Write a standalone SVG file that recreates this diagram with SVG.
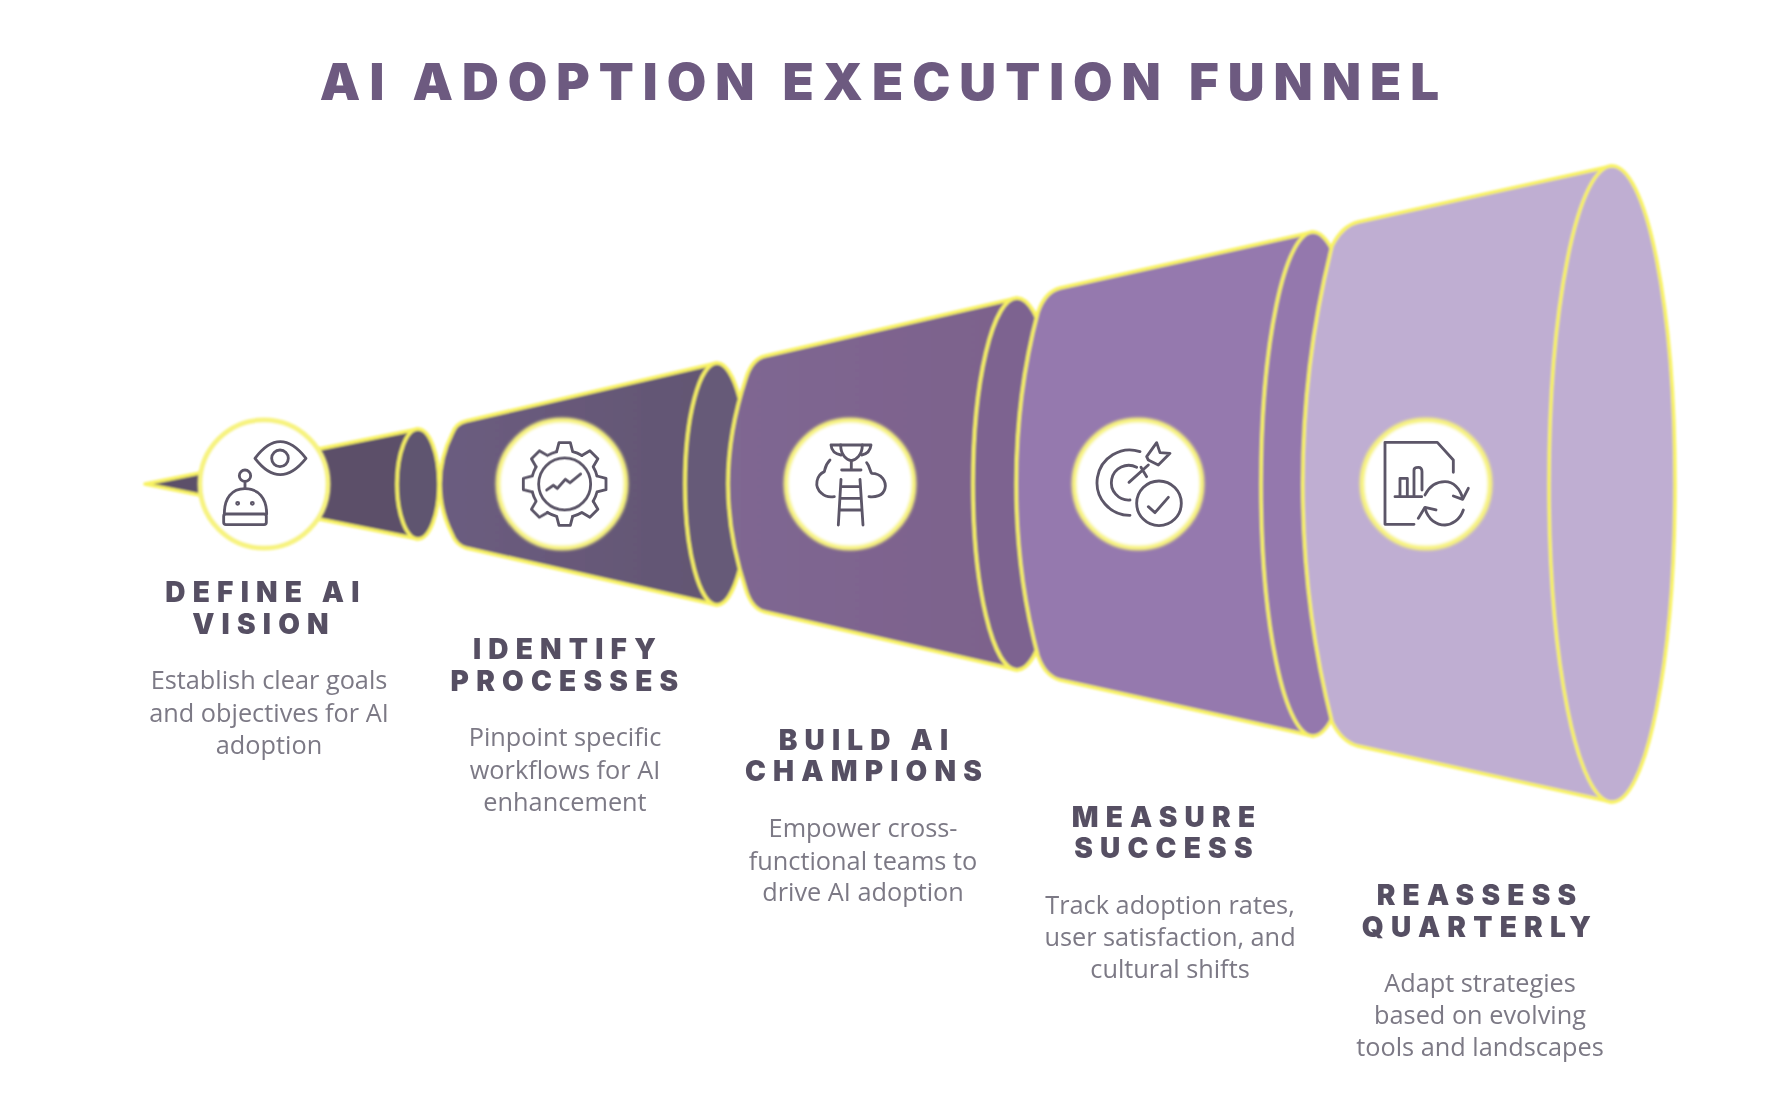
<svg xmlns="http://www.w3.org/2000/svg" width="1778" height="1096" viewBox="0 0 1778 1096">
<style>
.cone{stroke:#f8f262;stroke-width:3.5;stroke-linejoin:round}
.disc{fill:#fff;stroke:#f7f380;stroke-width:5}
.ic{fill:none;stroke:#5c5668;stroke-width:8.5;stroke-linecap:round;stroke-linejoin:round}
.hd{font-family:"Inter","Liberation Sans",sans-serif;font-weight:900;font-size:28px;letter-spacing:7.2px;fill:#565063;text-anchor:middle}
.bd{font-family:"Open Sans","Liberation Sans",sans-serif;font-weight:400;font-size:25.3px;fill:#7c7985;text-anchor:middle}
.tt{font-family:"Inter","Liberation Sans",sans-serif;font-weight:900;font-size:51px;letter-spacing:9px;fill:#6d5a80;text-anchor:middle}
</style>
<defs>
<filter id="soft" x="-5%" y="-5%" width="110%" height="110%"><feGaussianBlur stdDeviation="0.8"/></filter>
<filter id="softer" x="-10%" y="-10%" width="120%" height="120%"><feGaussianBlur stdDeviation="1.5"/></filter>
<filter id="tsoft" x="-5%" y="-20%" width="110%" height="140%"><feGaussianBlur stdDeviation="0.45"/></filter>
<linearGradient id="g2" x1="0" x2="1" y1="0" y2="0"><stop offset="0" stop-color="#6c5c80"/><stop offset="1" stop-color="#625672"/></linearGradient>
<linearGradient id="g3" x1="0" x2="1" y1="0" y2="0"><stop offset="0" stop-color="#7f6792"/><stop offset="1" stop-color="#7d628c"/></linearGradient>
<path id="gs" d="M-24,-97 L-17,-124 H17 L24,-97 A100,100 0 0 1 51.6,-85.6"/>
</defs>
<rect width="1778" height="1096" fill="#fff"/>

<g id="funnel" filter="url(#soft)">
<g id="cone-1">
<path class="cone" fill="#5b4f69" d="M145,484 L418,429 L418,539 Z"/>
<ellipse class="cone" fill="#5f5470" cx="418" cy="484" rx="21" ry="55"/>
</g>
<g id="cone-2">
<path class="cone" fill="url(#g2)" d="M717,363 L466,421 Q456,423 452,434 C436,465 436,503 452,534 Q456,545 466,548 L717,605 Z"/>
<ellipse class="cone" fill="#665a78" cx="717" cy="484" rx="32" ry="121"/>
</g>
<g id="cone-3">
<path class="cone" fill="url(#g3)" d="M1017,298 L765,356 Q752,359 746,378 C722,450 722,518 746,590 Q752,609 765,612 L1017,670 Z"/>
<ellipse class="cone" fill="#7d6490" cx="1017" cy="484" rx="44" ry="186"/>
</g>
<g id="cone-4">
<path class="cone" fill="#9579ae" d="M1313,232 L1060,288 Q1045,292 1038,312 C1009,420 1009,548 1038,656 Q1045,676 1060,680 L1313,736 Z"/>
<ellipse class="cone" fill="#9478ad" cx="1313" cy="484" rx="52" ry="252"/>
</g>
<g id="cone-5">
<path class="cone" fill="#bfaed2" d="M1612,166 L1358,222 Q1342,226 1332,246 C1293,400 1293,568 1332,722 Q1342,742 1358,746 L1612,802 Z"/>
<ellipse class="cone" fill="#bfaed2" cx="1612" cy="484" rx="63" ry="318"/>
</g>
</g>

<g id="step-1">
<circle class="disc" cx="264" cy="484" r="64" filter="url(#soft)"/>
<g class="ic" transform="translate(190,410) scale(.3333)" filter="url(#soft)">
<path d="M195,145 Q270,45 348,145 Q270,243 195,145 Z"/><circle cx="270" cy="145" r="25"/>
<circle cx="165" cy="197" r="17"/><path d="M165,214 V236"/>
<path d="M103,312 C103,265 125,236 165,236 C205,236 230,265 230,312"/>
<rect x="101" y="312" width="128" height="32" rx="7"/>
<circle cx="143" cy="280" r="3"/><circle cx="187" cy="280" r="3"/>
</g>
<text class="hd" x="266" y="602" filter="url(#tsoft)">DEFINE AI</text>
<text class="hd" x="264" y="634" filter="url(#tsoft)">VISION</text>
<text class="bd" x="269" y="689" filter="url(#tsoft)">Establish clear goals</text>
<text class="bd" x="269" y="722" filter="url(#tsoft)">and objectives for AI</text>
<text class="bd" x="269" y="754" filter="url(#tsoft)">adoption</text>
</g>

<g id="step-2">
<circle class="disc" cx="562" cy="484" r="64" filter="url(#softer)"/>
<g class="ic" transform="translate(490,410) scale(.3333)" filter="url(#soft)">
<g transform="translate(224,222)">
<use href="#gs"/><use href="#gs" transform="rotate(45)"/><use href="#gs" transform="rotate(90)"/><use href="#gs" transform="rotate(135)"/><use href="#gs" transform="rotate(180)"/><use href="#gs" transform="rotate(225)"/><use href="#gs" transform="rotate(270)"/><use href="#gs" transform="rotate(315)"/>
<circle r="78"/>
</g>
<path d="M170,240 L190,226 L202,235 L226,208 L240,218 L272,192"/>
</g>
<text class="hd" x="568" y="659" filter="url(#tsoft)">IDENTIFY</text>
<text class="hd" x="568" y="691" filter="url(#tsoft)">PROCESSES</text>
<text class="bd" x="565" y="746" filter="url(#tsoft)">Pinpoint specific</text>
<text class="bd" x="565" y="779" filter="url(#tsoft)">workflows for AI</text>
<text class="bd" x="565" y="811" filter="url(#tsoft)">enhancement</text>
</g>

<g id="step-3">
<circle class="disc" cx="850" cy="484" r="64" filter="url(#softer)"/>
<g class="ic" transform="translate(775,410) scale(.3333)" filter="url(#soft)">
<path d="M197,105 C197,135 215,150 229,152 C243,150 262,135 262,105 Z"/>
<path d="M197,105 H168 Q170,130 198,135 M262,105 H288 Q285,130 260,135"/>
<path d="M229,152 V180 M200,180 H258"/>
<path d="M165,150 C150,165 150,178 148,185 C125,195 115,230 140,250 C150,260 165,262 178,260"/>
<path d="M275,158 C285,170 285,185 290,190 C320,190 335,215 330,235 C325,258 300,262 282,260"/>
<path d="M198,208 L190,345 M255,208 L264,345 M197,230 H256 M195,265 H258 M193,300 H261"/>
</g>
<text class="hd" x="867" y="750" filter="url(#tsoft)">BUILD AI</text>
<text class="hd" x="867" y="781" filter="url(#tsoft)">CHAMPIONS</text>
<text class="bd" x="863" y="837" filter="url(#tsoft)">Empower cross-</text>
<text class="bd" x="863" y="870" filter="url(#tsoft)">functional teams to</text>
<text class="bd" x="863" y="901" filter="url(#tsoft)">drive AI adoption</text>
</g>

<g id="step-4">
<circle class="disc" cx="1138" cy="484" r="64" filter="url(#softer)"/>
<g class="ic" transform="translate(1065,410) scale(.3333)" filter="url(#soft)">
<path d="M225,125 A98,98 0 1 0 195,316"/>
<path d="M215,172 A52,52 0 1 0 195,270"/>
<path d="M192,217 L250,165 M228,172 L245,200"/>
<path d="M245,140 L275,98 L285,128 L315,130 L280,165 L250,150 Z"/>
<circle cx="282" cy="280" r="67"/>
<path d="M250,290 L270,308 L310,262"/>
</g>
<text class="hd" x="1167" y="827" filter="url(#tsoft)">MEASURE</text>
<text class="hd" x="1167" y="858" filter="url(#tsoft)">SUCCESS</text>
<text class="bd" x="1170" y="914" filter="url(#tsoft)">Track adoption rates,</text>
<text class="bd" x="1170" y="946" filter="url(#tsoft)">user satisfaction, and</text>
<text class="bd" x="1170" y="978" filter="url(#tsoft)">cultural shifts</text>
</g>

<g id="step-5">
<circle class="disc" cx="1426" cy="484" r="64" filter="url(#softer)"/>
<g class="ic" transform="translate(1350,410) scale(.3333)" filter="url(#soft)">
<path d="M192,343 H105 V97 H262 L310,150 V187"/>
<path d="M135,260 H215 M150,260 V205 H172 V260 M192,260 V180 Q192,172 205,172 Q216,172 216,185 V240"/>
<path d="M225,255 C240,225 265,215 285,215 C310,215 330,235 338,265"/>
<path d="M310,258 L338,268 L355,235"/>
<path d="M340,300 C330,330 305,345 285,345 C260,345 235,330 225,295"/>
<path d="M205,325 L225,292 L258,300"/>
</g>
<text class="hd" x="1480" y="905" filter="url(#tsoft)">REASSESS</text>
<text class="hd" x="1480" y="937" filter="url(#tsoft)">QUARTERLY</text>
<text class="bd" x="1480" y="992" filter="url(#tsoft)">Adapt strategies</text>
<text class="bd" x="1480" y="1024" filter="url(#tsoft)">based on evolving</text>
<text class="bd" x="1480" y="1056" filter="url(#tsoft)">tools and landscapes</text>
</g>

<g id="connectors"></g>
<text id="title" class="tt" x="884" y="100" filter="url(#tsoft)">AI ADOPTION EXECUTION FUNNEL</text>
</svg>
